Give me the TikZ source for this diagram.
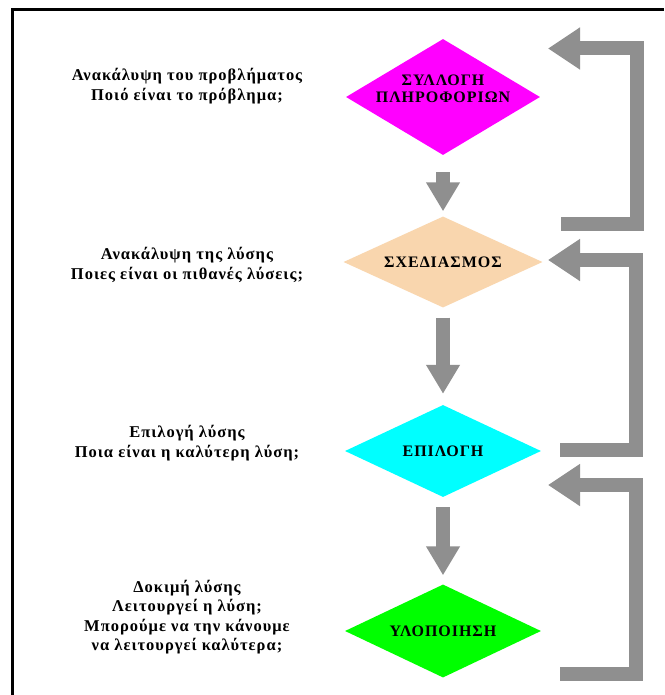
\documentclass[tikz,border=0pt]{standalone}
\usepackage{fontspec}
\setmainfont{Liberation Serif}
\usetikzlibrary{shapes.geometric,arrows.meta}
\definecolor{fbgray}{HTML}{8F8F8F}
\definecolor{dmag}{HTML}{FF00FF}
\definecolor{dpeach}{HTML}{F9D6AE}
\definecolor{dcyan}{HTML}{00FFFF}
\definecolor{dgreen}{HTML}{00FF00}
\begin{document}
\begin{tikzpicture}[x=1pt,y=-1pt,
  dia/.style={diamond, aspect=2.13, draw=none, inner sep=0pt, minimum width=196pt, minimum height=92pt},
  diatext/.style={font=\bfseries\fontsize{16}{17}\selectfont\addfontfeature{LetterSpace=6}, align=center, inner sep=0pt},
  lefttext/.style={font=\bfseries\fontsize{16.5}{19.5}\selectfont\addfontfeature{LetterSpace=6}, align=center, inner sep=0pt},
  downarrow/.style={draw=fbgray, line width=14pt, -{Triangle[width=32pt,length=29pt]}},
  backarrow/.style={draw=fbgray, line width=14pt, line join=miter, -{Triangle[width=40pt,length=32pt]}}
]
\useasboundingbox (0,0) rectangle (664,695);
\fill[white] (0,0) rectangle (664,695);
\draw[line width=3pt] (12.5,695) -- (12.5,9.5) -- (664,9.5);

% diamonds
\node[dia, fill=dmag, minimum width=194pt, minimum height=116pt] (d1) at (443,97) {};
\node[diatext] (t1) at (443,89) {ΣΥΛΛΟΓΗ\\ΠΛΗΡΟΦΟΡΙΩΝ};
\node[dia, fill=dpeach, diatext, minimum width=199pt, minimum height=91pt] (d2) at (443,262) {ΣΧΕΔΙΑΣΜΟΣ};
\node[dia, fill=dcyan, diatext] (d3) at (443,451) {ΕΠΙΛΟΓΗ};
\node[dia, fill=dgreen, diatext, minimum height=93pt] (d4) at (443,631) {ΥΛΟΠΟΙΗΣΗ};

% left texts
\node[lefttext] (l1) at (187,86) {Ανακάλυψη του προβλήματος\\Ποιό είναι το πρόβλημα;};
\node[lefttext] (l2) at (187,265) {Ανακάλυψη της λύσης\\Ποιες είναι οι πιθανές λύσεις;};
\node[lefttext] (l3) at (187,443) {Επιλογή λύσης\\Ποια είναι η καλύτερη λύση;};
\node[lefttext] (l4) at (187,617) {Δοκιμή λύσης\\Λειτουργεί η λύση;\\Μπορούμε να την κάνουμε\\να λειτουργεί καλύτερα;};

% down arrows
\draw[downarrow, shorten <=17pt, shorten >=5pt] (d1) -- (d2);
\draw[downarrow, shorten <=10pt, shorten >=11pt] (d2) -- (d3);
\draw[downarrow, shorten <=10pt, shorten >=9pt] (d3) -- (d4);

% feedback arrows
\coordinate (b1s) at (561,224);
\coordinate (b1e) at (548,48.5);
\coordinate (b2s) at (560,449.5);
\coordinate (b2e) at (548,260);
\coordinate (b3s) at (560,674);
\coordinate (b3e) at (548,485);
\draw[backarrow] (b1s) -- (636.5,224) -- (636.5,48.5) -- (b1e);
\draw[backarrow] (b2s) -- (636,449.5) -- (636,260) -- (b2e);
\draw[backarrow] (b3s) -- (636,674) -- (636,485) -- (b3e);
\end{tikzpicture}
\end{document}
